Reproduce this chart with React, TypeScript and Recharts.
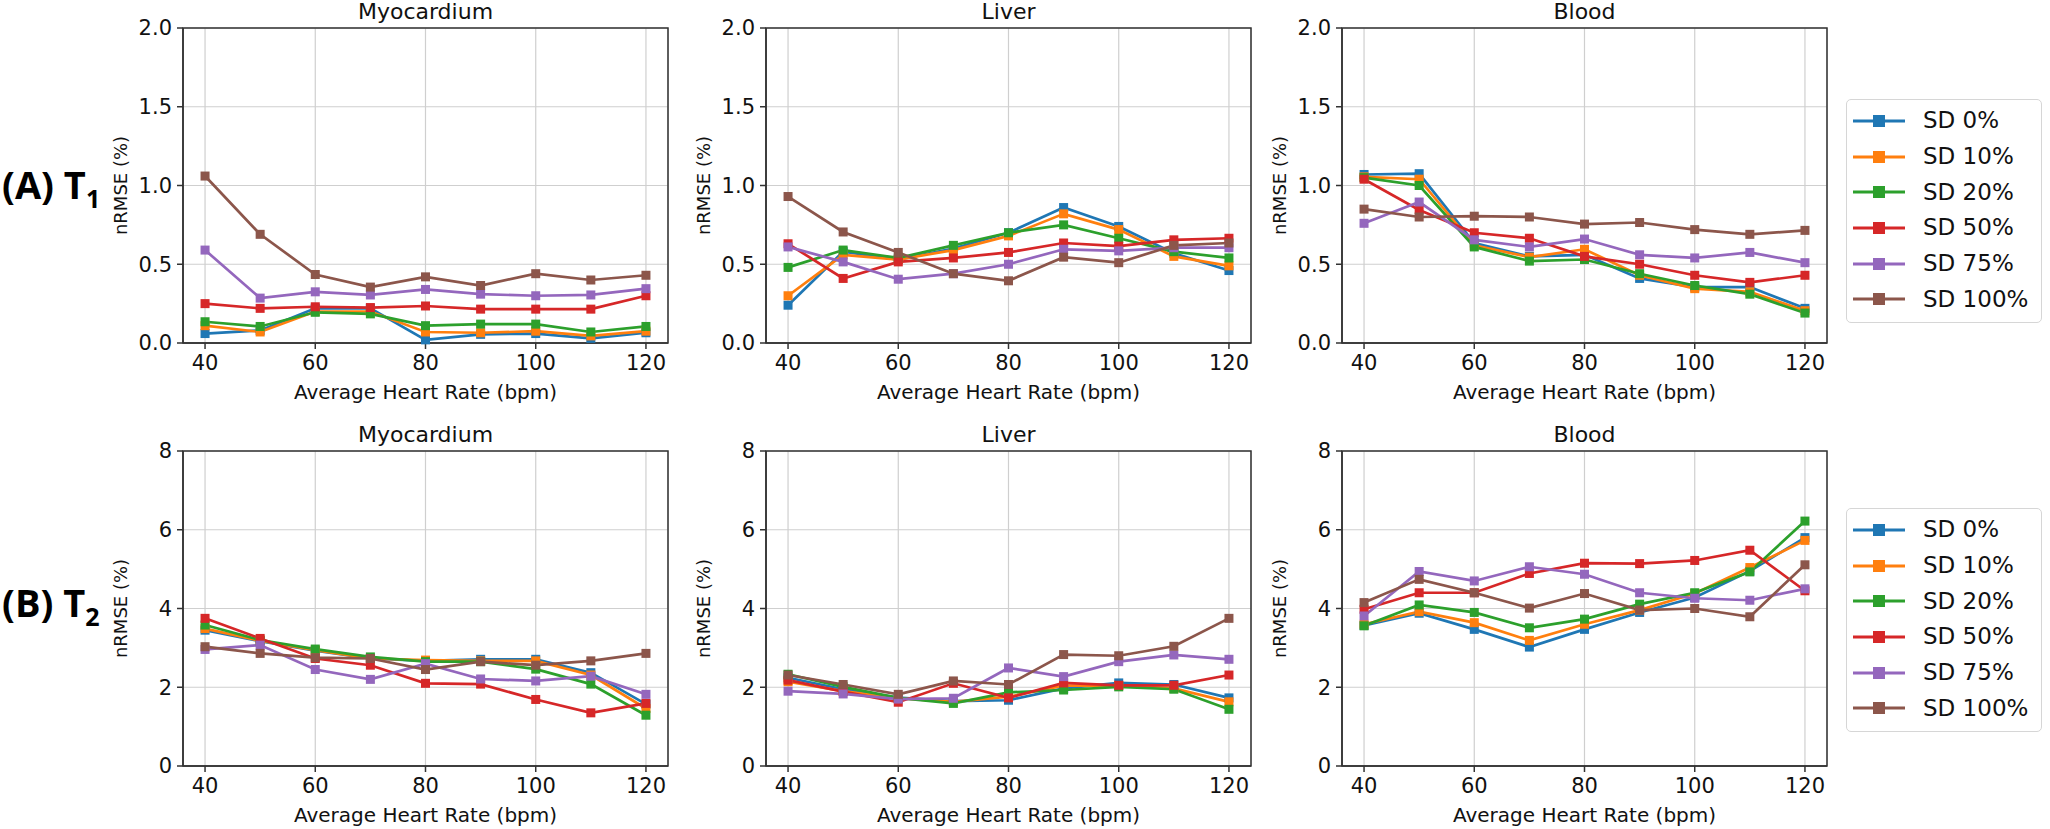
import {
  LineChart,
  Line,
  XAxis,
  YAxis,
  CartesianGrid,
  ReferenceArea,
  Legend,
  Label,
} from "recharts";

const HEART_RATES = [40, 50, 60, 70, 80, 90, 100, 110, 120];
const SD_LABELS = ["SD 0%", "SD 10%", "SD 20%", "SD 50%", "SD 75%", "SD 100%"];
const X_TICKS = [40, 60, 80, 100, 120];
const T1_TICKS = [0, 0.5, 1, 1.5, 2];
const T2_TICKS = [0, 2, 4, 6, 8];

// one row per SD level, same order as SD_LABELS
const T1_MYOCARDIUM = [
  [0.06, 0.08, 0.22, 0.22, 0.02, 0.055, 0.06, 0.03, 0.065],
  [0.11, 0.07, 0.2, 0.2, 0.07, 0.065, 0.075, 0.045, 0.075],
  [0.135, 0.105, 0.195, 0.185, 0.11, 0.12, 0.12, 0.07, 0.105],
  [0.25, 0.22, 0.23, 0.225, 0.235, 0.215, 0.215, 0.215, 0.3],
  [0.59, 0.285, 0.325, 0.305, 0.34, 0.31, 0.3, 0.305, 0.345],
  [1.06, 0.69, 0.435, 0.355, 0.42, 0.365, 0.44, 0.4, 0.43],
];
const T1_LIVER = [
  [0.24, 0.58, 0.53, 0.6, 0.7, 0.86, 0.74, 0.57, 0.46],
  [0.3, 0.56, 0.53, 0.59, 0.68, 0.82, 0.72, 0.55, 0.49],
  [0.48, 0.59, 0.54, 0.62, 0.7, 0.75, 0.665, 0.58, 0.54],
  [0.63, 0.41, 0.515, 0.54, 0.575, 0.635, 0.615, 0.655, 0.665],
  [0.61, 0.515, 0.405, 0.44, 0.5, 0.595, 0.585, 0.605, 0.605],
  [0.93, 0.705, 0.575, 0.44, 0.395, 0.545, 0.51, 0.62, 0.635],
];
const T1_BLOOD = [
  [1.07, 1.075, 0.635, 0.55, 0.56, 0.41, 0.355, 0.355, 0.22],
  [1.055, 1.04, 0.62, 0.545, 0.595, 0.43, 0.345, 0.325, 0.205],
  [1.05, 1.0, 0.61, 0.52, 0.53, 0.44, 0.365, 0.31, 0.19],
  [1.04, 0.845, 0.7, 0.665, 0.55, 0.5, 0.43, 0.385, 0.43],
  [0.76, 0.895, 0.655, 0.61, 0.66, 0.56, 0.54, 0.575, 0.51],
  [0.85, 0.8, 0.805, 0.8, 0.755, 0.765, 0.72, 0.69, 0.715],
];
const T2_MYOCARDIUM = [
  [3.45, 3.17, 2.93, 2.73, 2.67, 2.71, 2.71, 2.37, 1.57],
  [3.49, 3.18, 2.94, 2.73, 2.69, 2.67, 2.67, 2.31, 1.46],
  [3.58, 3.2, 2.97, 2.77, 2.65, 2.65, 2.46, 2.08, 1.29],
  [3.75, 3.24, 2.73, 2.56, 2.1, 2.08, 1.69, 1.35, 1.59],
  [2.96, 3.07, 2.45, 2.2, 2.6, 2.21, 2.16, 2.28, 1.82],
  [3.03, 2.86, 2.75, 2.73, 2.45, 2.65, 2.56, 2.67, 2.86],
];
const T2_LIVER = [
  [2.24, 1.95, 1.74, 1.65, 1.67, 1.97, 2.11, 2.07, 1.73],
  [2.14, 1.9, 1.72, 1.63, 1.76, 2.04, 2.04, 1.97, 1.63],
  [2.33, 2.01, 1.73, 1.59, 1.87, 1.93, 2.01, 1.95, 1.44],
  [2.18, 1.89, 1.62, 2.1, 1.73, 2.11, 2.05, 2.05, 2.31],
  [1.9, 1.83, 1.7, 1.72, 2.49, 2.27, 2.65, 2.82, 2.71],
  [2.31, 2.07, 1.82, 2.16, 2.07, 2.83, 2.8, 3.04, 3.75],
];
const T2_BLOOD = [
  [3.57, 3.88, 3.47, 3.02, 3.47, 3.9, 4.28, 4.95, 5.8],
  [3.6, 3.92, 3.64, 3.19, 3.6, 3.96, 4.38, 5.04, 5.73],
  [3.56, 4.09, 3.9, 3.51, 3.73, 4.11, 4.4, 4.93, 6.22],
  [3.98, 4.4, 4.4, 4.89, 5.15, 5.14, 5.22, 5.48, 4.45],
  [3.81, 4.94, 4.7, 5.06, 4.87, 4.4, 4.26, 4.21, 4.5],
  [4.15, 4.74, 4.4, 4.01, 4.38, 3.96, 4.0, 3.79, 5.11],
];

const COLORS = ["#1f77b4", "#ff7f0e", "#2ca02c", "#d62728", "#9467bd", "#8c564b"];
const FONT = "'DejaVu Sans', sans-serif";
const INK = "#111";
const SPINE = "#333";

const PLOT_LEFTS = [183, 766, 1342];
const ROW_TOPS = [28, 451];
const PLOT_W = 485;
const PLOT_H = 315;
const AXIS_W = 90;
const TOP_PAD = 16;
const X_AXIS_H = 62;

function toRows(series: number[][]) {
  return HEART_RATES.map((hr, i) => {
    const row: Record<string, number> = { hr };
    series.forEach((vals, s) => {
      row[`sd${s}`] = vals[i];
    });
    return row;
  });
}

function squareDot(color: string, size: number) {
  return (props: any) => {
    const { cx, cy, index } = props;
    if (cx == null || cy == null) return <g key={index} />;
    return (
      <rect
        key={index}
        x={cx - size / 2}
        y={cy - size / 2}
        width={size}
        height={size}
        fill={color}
      />
    );
  };
}

function YTitle({ viewBox }: any) {
  const cx = viewBox.x + 27;
  const cy = viewBox.y + viewBox.height / 2;
  return (
    <text
      x={cx}
      y={cy}
      transform={`rotate(-90 ${cx} ${cy})`}
      textAnchor="middle"
      dominantBaseline="central"
      fontSize={18}
      fontFamily={FONT}
      fill={INK}
    >
      nRMSE (%)
    </text>
  );
}

function LegendBox({ payload }: any) {
  // keep the plotting order, not the alphabetical one
  const items = [...(payload ?? [])].sort(
    (a: any, b: any) => SD_LABELS.indexOf(a.value) - SD_LABELS.indexOf(b.value)
  );
  return (
    <div
      style={{
        width: 196,
        height: 224,
        boxSizing: "border-box",
        border: "1.5px solid #d6d6d6",
        borderRadius: 5,
        background: "#fff",
        paddingTop: 3,
      }}
    >
      {items.map((p: any) => (
        <div
          key={p.value}
          style={{ display: "flex", alignItems: "center", height: 35.7 }}
        >
          <svg width={70} height={20} style={{ marginLeft: 6, flex: "none" }}>
            <line x1={0} y1={10} x2={52} y2={10} stroke={p.color} strokeWidth={3} />
            <rect x={20} y={4} width={12} height={12} fill={p.color} />
          </svg>
          <span
            style={{ fontFamily: FONT, fontSize: 23, color: INK, lineHeight: 1 }}
          >
            {p.value}
          </span>
        </div>
      ))}
    </div>
  );
}

function Panel({
  series,
  yMax,
  yTicks,
  decimals,
  left,
  top,
  title,
  legendTop,
}: {
  series: number[][];
  yMax: number;
  yTicks: number[];
  decimals: number;
  left: number;
  top: number;
  title: string;
  legendTop?: number;
}) {
  const chartLeft = left - AXIS_W;
  const chartTop = top - TOP_PAD;
  const rightMargin = legendTop != null ? 2050 - chartLeft - AXIS_W - PLOT_W : 10;
  const width = AXIS_W + PLOT_W + rightMargin;
  const height = TOP_PAD + PLOT_H + X_AXIS_H;
  const tickStyle = { fill: INK, fontSize: 21, fontFamily: FONT };

  return (
    <>
      <div style={{ position: "absolute", left: chartLeft, top: chartTop }}>
        <LineChart
          width={width}
          height={height}
          data={toRows(series)}
          margin={{ top: TOP_PAD, right: rightMargin, bottom: 0, left: 0 }}
        >
          <CartesianGrid stroke="#cfcfcf" strokeWidth={1.2} />
          <XAxis
            dataKey="hr"
            type="number"
            domain={[36, 124]}
            ticks={X_TICKS}
            interval={0}
            height={X_AXIS_H}
            tick={tickStyle}
            tickSize={6}
            tickMargin={6}
            stroke={SPINE}
            strokeWidth={1.5}
          >
            <Label
              value="Average Heart Rate (bpm)"
              position="insideBottom"
              offset={6}
              style={{ fontSize: 20, fontFamily: FONT, fill: INK }}
            />
          </XAxis>
          <YAxis
            type="number"
            domain={[0, yMax]}
            ticks={yTicks}
            interval={0}
            width={AXIS_W}
            tick={tickStyle}
            tickSize={6}
            tickMargin={5}
            tickFormatter={(v: number) => v.toFixed(decimals)}
            stroke={SPINE}
            strokeWidth={1.5}
          >
            <Label content={<YTitle />} />
          </YAxis>
          <ReferenceArea
            x1={36}
            x2={124}
            y1={0}
            y2={yMax}
            fill="none"
            stroke={SPINE}
            strokeWidth={1.5}
            ifOverflow="visible"
          />
          {SD_LABELS.map((name, s) => (
            <Line
              key={name}
              type="linear"
              dataKey={`sd${s}`}
              name={name}
              stroke={COLORS[s]}
              strokeWidth={2.7}
              dot={squareDot(COLORS[s], 9)}
              activeDot={false}
              isAnimationActive={false}
            />
          ))}
          {legendTop != null && (
            <Legend
              layout="vertical"
              align="center"
              verticalAlign="middle"
              content={(props: any) => <LegendBox {...props} />}
              wrapperStyle={{ left: 594, top: legendTop, width: 196, height: 224 }}
            />
          )}
        </LineChart>
      </div>
      <div
        style={{
          position: "absolute",
          left,
          top: top - 27,
          width: PLOT_W,
          textAlign: "center",
          fontFamily: FONT,
          fontSize: 22,
          lineHeight: "22px",
          color: INK,
        }}
      >
        {title}
      </div>
    </>
  );
}

function RowLabel({ letter, sub, top }: { letter: string; sub: string; top: number }) {
  return (
    <div
      style={{
        position: "absolute",
        left: 2,
        top,
        fontFamily: "'Open Sans', sans-serif",
        fontWeight: 700,
        fontSize: 38,
        lineHeight: "38px",
        color: "#000",
        whiteSpace: "nowrap",
      }}
    >
      ({letter}) T
      <span style={{ fontSize: 25, position: "relative", top: 9 }}>{sub}</span>
    </div>
  );
}

export default function App() {
  return (
    <div
      style={{
        position: "relative",
        width: 2050,
        height: 829,
        overflow: "hidden",
        background: "#fff",
      }}
    >
      <style>{"body{margin:0;}"}</style>
      <RowLabel letter="A" sub="1" top={165} />
      <RowLabel letter="B" sub="2" top={583} />

      <Panel series={T1_MYOCARDIUM} yMax={2} yTicks={T1_TICKS} decimals={1}
        left={PLOT_LEFTS[0]} top={ROW_TOPS[0]} title="Myocardium" />
      <Panel series={T1_LIVER} yMax={2} yTicks={T1_TICKS} decimals={1}
        left={PLOT_LEFTS[1]} top={ROW_TOPS[0]} title="Liver" />
      <Panel series={T1_BLOOD} yMax={2} yTicks={T1_TICKS} decimals={1}
        left={PLOT_LEFTS[2]} top={ROW_TOPS[0]} title="Blood" legendTop={87} />

      <Panel series={T2_MYOCARDIUM} yMax={8} yTicks={T2_TICKS} decimals={0}
        left={PLOT_LEFTS[0]} top={ROW_TOPS[1]} title="Myocardium" />
      <Panel series={T2_LIVER} yMax={8} yTicks={T2_TICKS} decimals={0}
        left={PLOT_LEFTS[1]} top={ROW_TOPS[1]} title="Liver" />
      <Panel series={T2_BLOOD} yMax={8} yTicks={T2_TICKS} decimals={0}
        left={PLOT_LEFTS[2]} top={ROW_TOPS[1]} title="Blood" legendTop={73} />
    </div>
  );
}
